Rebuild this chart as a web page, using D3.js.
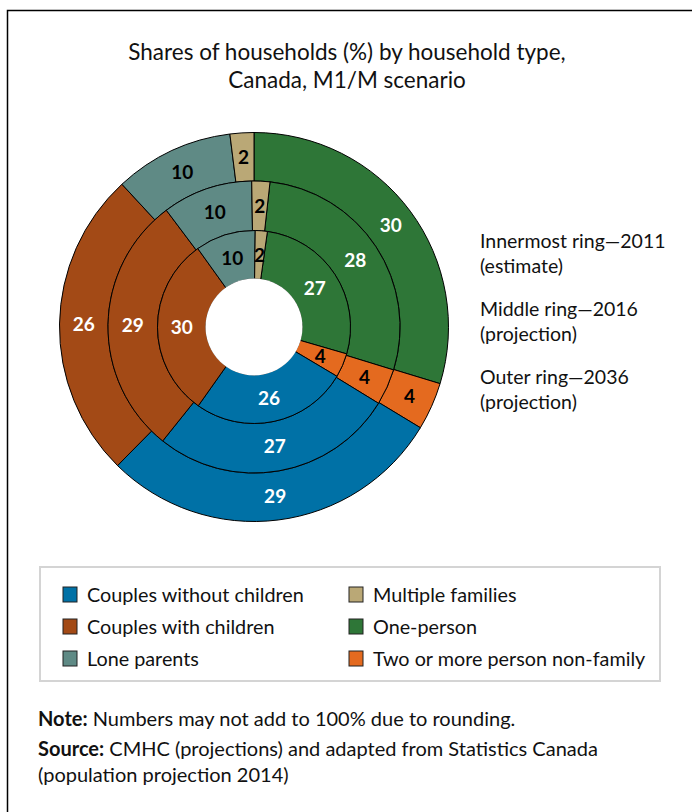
<!DOCTYPE html>
<html>
<head>
<meta charset="utf-8">
<script src="https://cdn.jsdelivr.net/npm/d3@7"></script>
<style>
  html, body { margin: 0; padding: 0; background: #fff; }
  svg { display: block; font-family: Lato, "Open Sans", sans-serif; }
</style>
</head>
<body>
<svg id="chart" width="692" height="812"></svg>
<script>
// Household types, in drawing order (clockwise from the start of each ring)
const categories = [
  "One-person",
  "Two or more person non-family",
  "Couples without children",
  "Couples with children",
  "Lone parents",
  "Multiple families"
];

// Shares of households (%), one array per ring
const values2011 = [27, 4, 26, 30, 10, 2];
const values2016 = [28, 4, 27, 29, 10, 2];
const values2036 = [30, 4, 29, 26, 10, 2];

const ringNotes = [
  ["Innermost ring\u20142011", "(estimate)"],
  ["Middle ring\u20142016", "(projection)"],
  ["Outer ring\u20142036", "(projection)"]
];

const legendOrder = [
  "Couples without children", "Couples with children", "Lone parents",
  "Multiple families", "One-person", "Two or more person non-family"
];

const palette = {
  "One-person": "#2E7637",
  "Two or more person non-family": "#E46A1F",
  "Couples without children": "#0071A6",
  "Couples with children": "#A34A16",
  "Lone parents": "#5F8A85",
  "Multiple families": "#BAA876"
};
const labelInk = {
  "One-person": "#fff",
  "Two or more person non-family": "#000",
  "Couples without children": "#fff",
  "Couples with children": "#fff",
  "Lone parents": "#000",
  "Multiple families": "#000"
};

const svg = d3.select("#chart");

// Outer frame (open on the right and bottom edges of the page)
svg.append("path")
  .attr("d", "M7.5,812 V10.5 H692")
  .attr("fill", "none").attr("stroke", "#000").attr("stroke-width", 1.5);

// Title
const title = svg.append("text")
  .attr("text-anchor", "middle")
  .attr("font-size", 22.5)
  .attr("fill", "#111");
title.append("tspan").attr("x", 347).attr("y", 60).text("Shares of households (%) by household type,");
title.append("tspan").attr("x", 347).attr("y", 88).text("Canada, M1/M scenario");

// Nested rings: inner 2011, middle 2016, outer 2036
const cx = 254, cy = 327;
const rings = [
  { values: values2011, r0: 48,  r1: 96.5, rot: 8 },
  { values: values2016, r0: 96.5, r1: 146, rot: 6.3 },
  { values: values2036, r0: 146, r1: 194.5, rot: 0 }
];

const g = svg.append("g").attr("transform", `translate(${cx},${cy})`);

rings.slice().reverse().forEach(ring => {
  const start = ring.rot * Math.PI / 180;
  const pie = d3.pie().sort(null).value(d => d.v)
    .startAngle(start).endAngle(start + 2 * Math.PI);
  const arc = d3.arc().innerRadius(ring.r0).outerRadius(ring.r1);
  const data = pie(categories.map((c, i) => ({ c, v: ring.values[i] })));
  const rg = g.append("g");
  rg.selectAll("path").data(data).join("path")
    .attr("d", arc)
    .attr("fill", d => palette[d.data.c])
    .attr("stroke", "#000")
    .attr("stroke-width", 1);
  ring.data = data;
  ring.arc = arc;
});

// Central hole
g.append("circle").attr("r", 48.5).attr("fill", "#fff");

// Value labels at each slice centroid
rings.forEach(ring => {
  g.append("g").selectAll("text").data(ring.data).join("text")
    .attr("transform", d => `translate(${ring.arc.centroid(d)})`)
    .attr("text-anchor", "middle")
    .attr("dy", "0.36em")
    .attr("font-size", 19)
    .attr("font-weight", "bold")
    .attr("fill", d => labelInk[d.data.c])
    .text(d => d.data.v);
});

// Ring notes on the right
const notes = svg.append("g").attr("font-size", 19.5).attr("fill", "#111");
ringNotes.forEach((lines, i) => {
  const t = notes.append("text");
  lines.forEach((line, j) => {
    t.append("tspan").attr("x", 480).attr("y", 248 + i * 68 + j * 25).text(line);
  });
});

// Legend
svg.append("rect")
  .attr("x", 40).attr("y", 567).attr("width", 620).attr("height", 114)
  .attr("fill", "#fff").attr("stroke", "#d4d4d4").attr("stroke-width", 2);

const legend = svg.append("g").attr("font-size", 19.8).attr("fill", "#111");
legendOrder.forEach((c, i) => {
  const col = Math.floor(i / 3), row = i % 3;
  const x = 63 + col * 286, y = 587 + row * 32;
  legend.append("rect")
    .attr("x", x).attr("y", y).attr("width", 14).attr("height", 15)
    .attr("fill", palette[c]).attr("stroke", "#222").attr("stroke-width", 1);
  legend.append("text")
    .attr("x", x + 24).attr("y", y + 15).text(c);
});

// Footnotes
const foot = svg.append("g").attr("font-size", 20).attr("fill", "#111");
const n1 = foot.append("text").attr("x", 38).attr("y", 726);
n1.append("tspan").attr("font-weight", "bold").text("Note:");
n1.append("tspan").text(" Numbers may not add to 100% due to rounding.");
const n2 = foot.append("text").attr("x", 38).attr("y", 756);
n2.append("tspan").attr("font-weight", "bold").text("Source:");
n2.append("tspan").text(" CMHC (projections) and adapted from Statistics Canada");
foot.append("text").attr("x", 38).attr("y", 782).text("(population projection 2014)");
</script>
</body>
</html>
